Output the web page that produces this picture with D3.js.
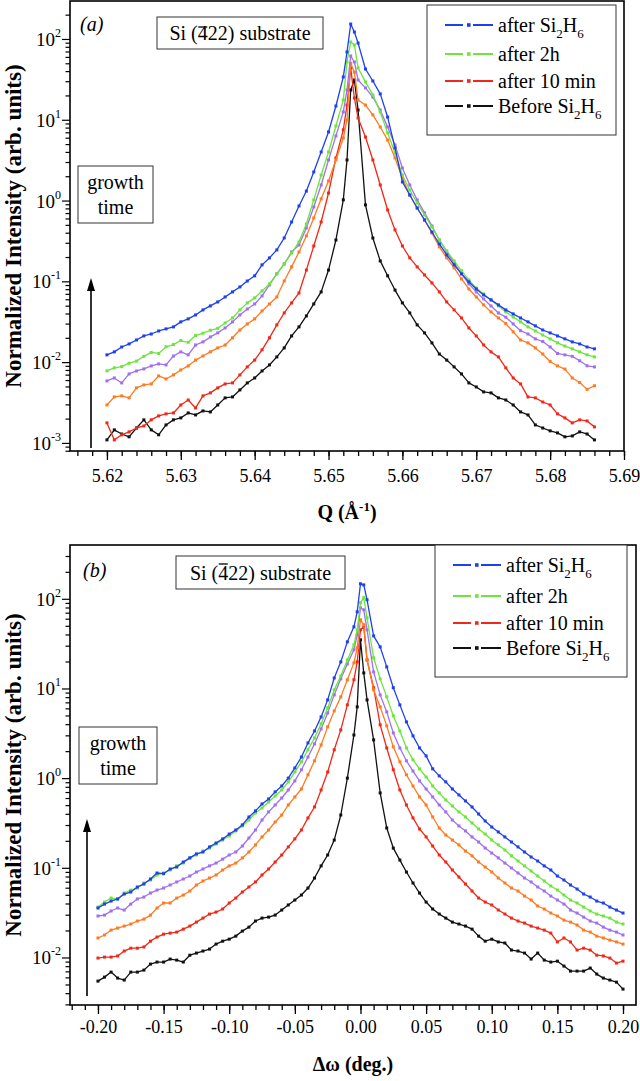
<!DOCTYPE html>
<html><head><meta charset="utf-8">
<script src="https://cdn.jsdelivr.net/npm/d3@7"></script>
<style>
body{margin:0;background:#fff;}
svg{display:block;}
text{font-family:"Liberation Serif","Times New Roman",serif;fill:#000;}
</style></head><body>
<svg id="chart" width="640" height="1081"></svg>
<script>
// ---------------- DATA ----------------
// Panel (a): Q (1/Angstrom)
const qA = [5.620,5.621,5.622,5.623,5.624,5.625,5.626,5.627,5.628,5.629,5.630,5.631,5.632,5.633,5.634,5.635,5.636,5.637,5.638,5.639,5.640,5.641,5.642,5.643,5.644,5.645,5.646,5.647,5.648,5.649,5.650,5.651,5.652,5.6525,5.653,5.6535,5.654,5.655,5.656,5.657,5.658,5.659,5.660,5.661,5.662,5.663,5.664,5.665,5.666,5.667,5.668,5.669,5.670,5.671,5.672,5.673,5.674,5.675,5.676,5.677,5.678,5.679,5.680,5.681,5.682,5.683,5.684,5.685,5.686];
const aBlue = [0.0123,0.0134,0.0154,0.0168,0.0188,0.0211,0.0223,0.0243,0.0258,0.0273,0.0315,0.0343,0.0384,0.0443,0.0496,0.0556,0.0641,0.0740,0.0853,0.101,0.117,0.160,0.195,0.245,0.344,0.543,0.857,1.31,2.26,3.99,7.06,14.8,33.9,69,153,122,89,42.5,30.2,20.9,10.8,4.48,1.70,1.17,0.809,0.575,0.408,0.290,0.212,0.160,0.124,0.0984,0.0805,0.0679,0.0589,0.0511,0.0443,0.0395,0.0352,0.0315,0.0281,0.0250,0.0230,0.0211,0.0194,0.0178,0.0168,0.0154,0.0146];
const aGreen = [0.0078,0.0085,0.0088,0.0097,0.0103,0.0118,0.0132,0.0128,0.0155,0.0165,0.0185,0.0176,0.0213,0.0228,0.0248,0.0262,0.0305,0.0352,0.0443,0.0541,0.0624,0.0761,0.0929,0.124,0.164,0.224,0.308,0.513,1.02,2.07,3.99,8.38,17.6,51.9,91.8,84.3,43.8,29.4,20.3,12.5,6.87,3.88,2.07,1.35,0.933,0.664,0.471,0.325,0.238,0.179,0.135,0.104,0.0828,0.0698,0.0589,0.0496,0.0418,0.0362,0.0315,0.0273,0.0243,0.0217,0.0194,0.0173,0.0158,0.0146,0.0134,0.0123,0.0116];
const aPurple = [0.00585,0.00637,0.00553,0.00714,0.00778,0.00824,0.00897,0.0095,0.00923,0.0119,0.0134,0.0123,0.0163,0.0178,0.0205,0.0230,0.0265,0.0315,0.0384,0.0455,0.0525,0.066,0.0902,0.124,0.164,0.231,0.282,0.458,0.834,1.56,3.18,6.31,12.5,23.4,61.6,51.9,31.1,24.8,19.1,13.2,8.14,4.88,2.53,1.56,1.02,0.703,0.485,0.325,0.231,0.169,0.124,0.0929,0.0740,0.0606,0.0496,0.0406,0.036,0.0297,0.0245,0.0223,0.0194,0.0180,0.0154,0.0128,0.0123,0.0118,0.0104,0.0090,0.00873];
const aOrange = [0.00295,0.00371,0.00382,0.00361,0.0048,0.00522,0.00537,0.00675,0.00619,0.00695,0.0080,0.00897,0.0106,0.0119,0.0134,0.0150,0.0163,0.0200,0.0250,0.0297,0.0343,0.0430,0.0525,0.0641,0.101,0.151,0.231,0.365,0.609,1.05,1.75,3.18,5.95,9.95,50,38.8,17.6,15.2,11.5,8.14,5.6,3.37,1.90,1.17,0.809,0.575,0.397,0.267,0.195,0.147,0.107,0.0805,0.0641,0.0511,0.0418,0.0352,0.0300,0.0237,0.0188,0.0173,0.0150,0.0126,0.0102,0.00897,0.0082,0.00637,0.0056,0.0046,0.0051];
const aRed = [0.00177,0.00109,0.00126,0.00137,0.00153,0.00162,0.00193,0.00216,0.00229,0.00235,0.00295,0.0034,0.00271,0.00382,0.00416,0.0048,0.00537,0.00553,0.00695,0.00873,0.0106,0.0142,0.0200,0.0289,0.0406,0.0541,0.0718,0.138,0.274,0.543,1.24,3.37,7.5,15.2,43.8,18.6,10.5,6.12,3.18,1.56,0.765,0.433,0.274,0.195,0.151,0.120,0.0955,0.0740,0.0556,0.0443,0.0352,0.0265,0.0211,0.0163,0.0134,0.0116,0.00848,0.00637,0.00537,0.00371,0.00361,0.00321,0.00295,0.00229,0.00204,0.00177,0.00193,0.00187,0.00158];
const aBlack = [0.00109,0.00145,0.00129,0.00119,0.00153,0.00193,0.00145,0.00126,0.00167,0.00193,0.00204,0.00235,0.00222,0.00249,0.00242,0.00295,0.00361,0.00371,0.00453,0.00553,0.00637,0.00778,0.00923,0.0116,0.0150,0.0211,0.0273,0.0373,0.0525,0.0740,0.138,0.325,1.02,3.18,23.4,31.1,13.2,0.883,0.344,0.179,0.117,0.078,0.0541,0.0406,0.0289,0.0230,0.0173,0.0126,0.0106,0.00873,0.00714,0.00553,0.00493,0.00428,0.00416,0.00361,0.0034,0.00295,0.00242,0.00222,0.00167,0.00153,0.00141,0.00133,0.00119,0.00122,0.00137,0.00129,0.00109];

// Panel (b): delta omega (deg.)
const dB = [-0.200,-0.195,-0.190,-0.185,-0.180,-0.175,-0.170,-0.165,-0.160,-0.155,-0.150,-0.145,-0.140,-0.135,-0.130,-0.125,-0.120,-0.115,-0.110,-0.105,-0.100,-0.095,-0.090,-0.085,-0.080,-0.075,-0.070,-0.065,-0.060,-0.055,-0.050,-0.045,-0.040,-0.035,-0.030,-0.025,-0.020,-0.015,-0.010,-0.005,-0.0025,0,0.0025,0.005,0.010,0.015,0.020,0.025,0.030,0.035,0.040,0.045,0.050,0.055,0.060,0.065,0.070,0.075,0.080,0.085,0.090,0.095,0.100,0.105,0.110,0.115,0.120,0.125,0.130,0.135,0.140,0.145,0.150,0.155,0.160,0.165,0.170,0.175,0.180,0.185,0.190,0.195,0.200];
const bBlue = [0.0356,0.0394,0.0426,0.0449,0.0510,0.0537,0.0611,0.0659,0.0750,0.0875,0.0860,0.0970,0.102,0.116,0.129,0.143,0.150,0.171,0.189,0.210,0.238,0.264,0.301,0.369,0.431,0.515,0.586,0.702,0.818,1.00,1.30,1.72,2.47,3.36,4.82,7.46,13.1,19.8,33.1,48.7,71.6,147,143,97.5,38.6,29.1,17.4,10.2,6.56,4.24,2.96,2.17,1.77,1.27,1.06,0.908,0.757,0.649,0.557,0.477,0.398,0.333,0.285,0.251,0.221,0.194,0.171,0.150,0.132,0.119,0.105,0.0945,0.0810,0.0731,0.0643,0.0580,0.0510,0.0472,0.0426,0.0405,0.0365,0.0338,0.0313];
const bGreen = [0.0365,0.0415,0.0460,0.0449,0.0523,0.0565,0.0595,0.0677,0.0731,0.0832,0.0875,0.0945,0.105,0.113,0.129,0.139,0.154,0.166,0.184,0.204,0.226,0.258,0.293,0.341,0.409,0.465,0.542,0.632,0.738,0.908,1.17,1.52,2.07,2.81,4.03,6.07,9.65,13.8,20.8,30.7,45.1,90.2,103,61.4,22.0,12.8,8.06,4.94,3.36,2.17,1.60,1.27,1.03,0.818,0.684,0.571,0.490,0.420,0.369,0.316,0.271,0.238,0.204,0.180,0.158,0.136,0.119,0.105,0.0921,0.0810,0.0713,0.0627,0.0565,0.0497,0.0437,0.0405,0.0365,0.0330,0.0305,0.0290,0.0275,0.0248,0.0236];
const bPurple = [0.0290,0.0297,0.0330,0.0356,0.0338,0.0394,0.0449,0.0472,0.0523,0.0565,0.0595,0.0643,0.0695,0.0750,0.0810,0.0897,0.0970,0.105,0.113,0.125,0.139,0.150,0.175,0.215,0.264,0.341,0.420,0.502,0.601,0.738,0.931,1.24,1.72,2.41,3.54,5.34,8.48,12.8,18.8,27.0,39.6,79.4,75.4,45.1,15.3,8.48,5.48,3.19,2.17,1.56,1.20,0.931,0.757,0.617,0.502,0.420,0.341,0.293,0.258,0.221,0.194,0.166,0.146,0.129,0.113,0.0995,0.0875,0.0769,0.0695,0.0611,0.0551,0.0484,0.0437,0.0394,0.0338,0.0313,0.0282,0.0255,0.0242,0.0218,0.0202,0.0192,0.0178];
const bOrange = [0.0165,0.0178,0.0202,0.0213,0.0224,0.0236,0.0255,0.0268,0.0297,0.0356,0.0405,0.0405,0.0460,0.0497,0.0551,0.0643,0.0713,0.0769,0.0832,0.0945,0.105,0.113,0.129,0.150,0.180,0.221,0.264,0.324,0.388,0.502,0.617,0.757,1.09,1.56,2.35,3.73,5.62,8.06,12.5,19.3,28.4,58.3,51.3,20.8,9.65,6.23,3.83,2.23,1.52,1.09,0.818,0.617,0.502,0.369,0.278,0.232,0.204,0.180,0.154,0.136,0.116,0.102,0.0897,0.0769,0.0677,0.0595,0.0551,0.0484,0.0437,0.0375,0.0347,0.0313,0.0290,0.0261,0.0248,0.0230,0.0202,0.0192,0.0173,0.0165,0.0156,0.0149,0.0141];
const bRed = [0.00985,0.0101,0.0101,0.0104,0.0118,0.0127,0.0127,0.0131,0.0152,0.0169,0.0182,0.0187,0.0192,0.0207,0.0224,0.0248,0.0275,0.0305,0.0321,0.0347,0.0405,0.0460,0.0537,0.0611,0.0695,0.0832,0.0970,0.116,0.139,0.171,0.210,0.264,0.360,0.477,0.738,1.17,2.07,3.45,6.56,12.5,19.8,45.1,48.7,20.8,10.2,3.93,2.17,1.24,0.738,0.502,0.360,0.271,0.221,0.175,0.139,0.116,0.0945,0.0789,0.0659,0.0551,0.0460,0.0415,0.0385,0.0338,0.0305,0.0275,0.0255,0.0242,0.0224,0.0213,0.0202,0.0187,0.0149,0.0165,0.0149,0.0121,0.0127,0.0121,0.0106,0.0104,0.00985,0.00866,0.0091];
const bBlack = [0.00545,0.00604,0.00687,0.00589,0.00560,0.00687,0.00687,0.00723,0.00844,0.00889,0.00889,0.00960,0.00935,0.00889,0.0106,0.0112,0.0118,0.0124,0.0141,0.0152,0.0160,0.0173,0.0197,0.0218,0.0255,0.0275,0.0282,0.0297,0.0338,0.0385,0.0437,0.0497,0.0595,0.0769,0.105,0.139,0.204,0.388,1.00,3.03,6.23,34.9,14.9,7.46,2.67,0.684,0.278,0.166,0.122,0.0897,0.0677,0.0523,0.0415,0.0347,0.0305,0.0275,0.0248,0.0236,0.0224,0.0207,0.0173,0.0152,0.0160,0.0149,0.0145,0.0121,0.0118,0.0112,0.0096,0.0112,0.00935,0.00889,0.0091,0.00802,0.00705,0.00705,0.00705,0.00762,0.00653,0.00589,0.00560,0.00531,0.00444];

// Ticks and labels
const xTicksA = [5.62,5.63,5.64,5.65,5.66,5.67,5.68,5.69];
const xTickLabelsA = ["5.62","5.63","5.64","5.65","5.66","5.67","5.68","5.69"];
const xTicksB = [-0.20,-0.15,-0.10,-0.05,0,0.05,0.10,0.15,0.20];
const xTickLabelsB = ["-0.20","-0.15","-0.10","-0.05","0.00","0.05","0.10","0.15","0.20"];
const yExpA = [-3,-2,-1,0,1,2];
const yExpB = [-2,-1,0,1,2];
const legendLabels = [["after Si","2","H","6"],["after 2h"],["after 10 min"],["Before Si","2","H","6"]];

// ---------------- STYLE ----------------
const C = {blue:"#1f40ee", green:"#6ce63a", purple:"#a070f2", orange:"#ff7a20", red:"#f02818", black:"#111111"};
const legendColors = [C.blue, C.green, C.red, C.black];

const svg = d3.select("#chart");
svg.append("rect").attr("width",640).attr("height",1081).attr("fill","#fff");

function drawPanel(p){
  const g = svg.append("g");
  const x = d3.scaleLinear().domain(p.xDom).range([p.L,p.R]);
  const y = d3.scaleLog().domain(p.yDom).range([p.B,p.T]);

  // series
  p.series.forEach(s=>{
    const pts = p.xs.map((v,i)=>[v,s.vals[i]]);
    g.append("path").datum(pts)
      .attr("d", d3.line().x(d=>x(d[0])).y(d=>y(d[1])))
      .attr("fill","none").attr("stroke",s.color).attr("stroke-width",1.3).attr("stroke-linejoin","round");
    g.selectAll(null).data(pts).enter().append("rect")
      .attr("x",d=>x(d[0])-1.5).attr("y",d=>y(d[1])-1.5)
      .attr("width",3).attr("height",3).attr("fill",s.color);
  });

  // x axis
  const xa = g.append("g").attr("transform",`translate(0,${p.B})`)
    .call(d3.axisBottom(x).tickValues(p.xTicks).tickSize(9).tickPadding(p.xPad).tickFormat((d,i)=>p.xLabels[i]));
  const xm = g.append("g").attr("transform",`translate(0,${p.B})`)
    .call(d3.axisBottom(x).tickValues(p.xMinor).tickSize(5).tickFormat(""));
  [xa,xm].forEach(a=>{a.select(".domain").remove(); a.selectAll("line").attr("stroke","#000").attr("stroke-width",1.3);});
  xa.selectAll("text").attr("font-size",18).attr("font-family","Liberation Serif").attr("fill","#000");

  // y axis
  const ya = g.append("g").attr("transform",`translate(${p.L},0)`)
    .call(d3.axisLeft(y).tickValues(p.yExp.map(e=>Math.pow(10,e))).tickSize(8).tickFormat(""));
  const minors = [];
  for(let k=-4;k<=3;k++) for(let m=2;m<=9;m++){const v=m*Math.pow(10,k); if(v>=p.yDom[0]&&v<=p.yDom[1]) minors.push(v);}
  const ym = g.append("g").attr("transform",`translate(${p.L},0)`)
    .call(d3.axisLeft(y).tickValues(minors).tickSize(4.5).tickFormat(""));
  [ya,ym].forEach(a=>{a.select(".domain").remove(); a.selectAll("line").attr("stroke","#000").attr("stroke-width",1.2);});
  p.yExp.forEach(e=>{
    const t = g.append("text").attr("x",p.L-9).attr("y",y(Math.pow(10,e))+7).attr("text-anchor","end").attr("font-size",19);
    t.append("tspan").text("10");
    t.append("tspan").attr("dy",-9).attr("font-size",12).text(String(e));
  });

  // frame
  g.append("rect").attr("x",p.L).attr("y",p.T).attr("width",p.R-p.L).attr("height",p.B-p.T)
    .attr("fill","none").attr("stroke","#000").attr("stroke-width",1.6);

  // axis titles
  g.append("text").attr("transform",`translate(${p.yTitleX},${(p.T+p.B)/2}) rotate(-90)`)
    .attr("text-anchor","middle").attr("font-size",p.yTitleSize).attr("font-weight","bold")
    .text("Normalized Intensity (arb. units)");
  const xt = g.append("text").attr("x",(p.L+p.R)/2).attr("y",p.xTitleY).attr("text-anchor","middle")
    .attr("font-size",20).attr("font-weight","bold");
  p.xTitle(xt);

  // panel label
  g.append("text").attr("x",p.panelLab[0]).attr("y",p.panelLab[1]).attr("font-size",20)
    .attr("font-style","italic").text(p.panelLab[2]);

  // substrate box
  const sb = p.subBox;
  g.append("rect").attr("x",sb[0]).attr("y",sb[1]).attr("width",sb[2]).attr("height",sb[3])
    .attr("fill","#fff").attr("stroke","#333").attr("stroke-width",1);
  const st = g.append("text").attr("x",sb[0]+sb[2]/2).attr("y",sb[1]+sb[3]-9).attr("text-anchor","middle").attr("font-size",20);
  st.append("tspan").text("Si (");
  st.append("tspan").text("4");
  st.append("tspan").text("22) substrate");
  const ext = st.node().getExtentOfChar(4);
  const bl = sb[1]+sb[3]-9;
  g.append("line").attr("x1",ext.x+0.5).attr("x2",ext.x+ext.width-0.5)
    .attr("y1",bl-p.barOff).attr("y2",bl-p.barOff).attr("stroke","#000").attr("stroke-width",1.3);

  // legend
  const lg = p.leg;
  g.append("rect").attr("x",lg.x).attr("y",lg.y).attr("width",lg.w).attr("height",lg.h)
    .attr("fill","#fff").attr("stroke","#333").attr("stroke-width",1);
  legendLabels.forEach((lab,i)=>{
    const by = lg.rows[i];
    const ly = by-7;
    g.append("line").attr("x1",lg.lx).attr("x2",lg.lx+48).attr("y1",ly).attr("y2",ly)
      .attr("stroke",legendColors[i]).attr("stroke-width",1.8).attr("stroke-dasharray","18 5 0 5 20");
    g.append("rect").attr("x",lg.lx+22).attr("y",ly-1.8).attr("width",3.6).attr("height",3.6).attr("fill",legendColors[i]);
    const t = g.append("text").attr("x",lg.lx+53).attr("y",by).attr("font-size",20);
    t.append("tspan").text(lab[0]);
    if(lab.length>1){
      t.append("tspan").attr("dy",6).attr("font-size",13).text(lab[1]);
      t.append("tspan").attr("dy",-6).text(lab[2]);
      t.append("tspan").attr("dy",6).attr("font-size",13).text(lab[3]);
    }
  });

  // growth time box + arrow
  const gb = p.growth;
  g.append("rect").attr("x",gb.x).attr("y",gb.y).attr("width",gb.w).attr("height",gb.h)
    .attr("fill","#fff").attr("stroke","#333").attr("stroke-width",1);
  g.append("text").attr("x",gb.x+gb.w/2).attr("y",gb.y+23).attr("text-anchor","middle").attr("font-size",20).text("growth");
  g.append("text").attr("x",gb.x+gb.w/2).attr("y",gb.y+48).attr("text-anchor","middle").attr("font-size",20).text("time");
  g.append("line").attr("x1",gb.ax).attr("x2",gb.ax).attr("y1",gb.a0).attr("y2",gb.a1+10)
    .attr("stroke","#000").attr("stroke-width",1.6);
  g.append("path").attr("d",`M${gb.ax},${gb.a1} L${gb.ax-4},${gb.a1+13} L${gb.ax+4},${gb.a1+13} Z`).attr("fill","#000");
}

const minorA = d3.range(5616,5691,2).map(v=>v/1000);
const minorB = d3.range(-22,21,1).map(v=>v/100);

drawPanel({
  xs:qA, xDom:[5.615,5.69], yDom:[Math.pow(10,-3.1),Math.pow(10,2.47)],
  L:70, R:624, T:1, B:451, xPad:9,
  xTicks:xTicksA, xLabels:xTickLabelsA, xMinor:minorA, yExp:yExpA,
  series:[{vals:aBlack,color:C.black},{vals:aRed,color:C.red},{vals:aOrange,color:C.orange},{vals:aPurple,color:C.purple},{vals:aGreen,color:C.green},{vals:aBlue,color:C.blue}],
  yTitleX:21, yTitleSize:23, xTitleY:519,
  xTitle:t=>{t.append("tspan").text("Q (Å");t.append("tspan").attr("dy",-8).attr("font-size",13).text("-1");t.append("tspan").attr("dy",8).text(")");},
  panelLab:[80,31,"(a)"],
  subBox:[157,17,166,32], barOff:13,
  leg:{x:427,y:5,w:189,h:130,lx:445,rows:[32,61,88,113]},
  growth:{x:78,y:166,w:75,h:57,ax:91,a0:448,a1:278}
});

drawPanel({
  xs:dB, xDom:[-0.2213,0.2099], yDom:[Math.pow(10,-2.53),Math.pow(10,2.60)],
  L:70, R:636, T:545, B:1005, xPad:6,
  xTicks:xTicksB, xLabels:xTickLabelsB, xMinor:minorB, yExp:yExpB,
  series:[{vals:bBlack,color:C.black},{vals:bRed,color:C.red},{vals:bOrange,color:C.orange},{vals:bPurple,color:C.purple},{vals:bGreen,color:C.green},{vals:bBlue,color:C.blue}],
  yTitleX:21, yTitleSize:23, xTitleY:1071,
  xTitle:t=>{t.text("Δω (deg.)");},
  panelLab:[83,577,"(b)"],
  subBox:[176,556,169,33], barOff:16,
  leg:{x:435,y:545,w:192,h:132,lx:453,rows:[572,603,630,655]},
  growth:{x:79,y:727,w:78,h:57,ax:87,a0:996,a1:819}
});
</script>
</body></html>
